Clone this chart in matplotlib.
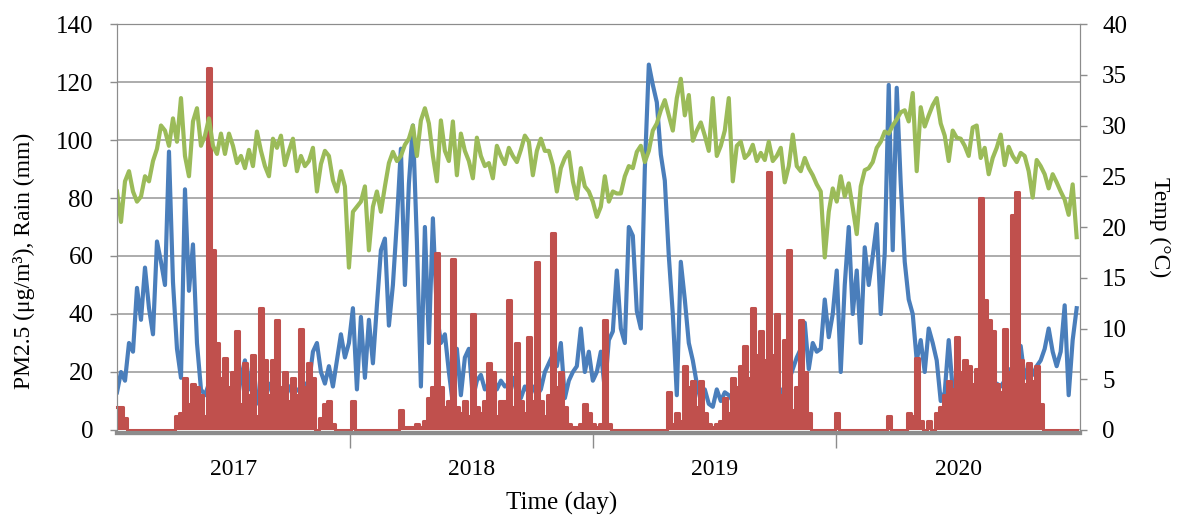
import matplotlib

matplotlib.use("Agg")
import matplotlib.dates as mdates
import matplotlib.pyplot as plt
import pandas as pd

# daily records, one value every 6 days from 17 Jan 2017
start = "2017-01-17"
step_days = 6
x_end = "2021-01-01"

pm25 = [
    13, 20, 17, 30, 27, 49, 38, 56, 42, 33, 65, 58, 50, 96, 51, 28, 18, 83, 48, 64,
    30, 14, 12, 16, 11, 15, 13, 16, 12, 14, 9, 18, 24, 14, 24, 10, 8, 13, 16, 12,
    14, 11, 16, 15, 12, 14, 13, 16, 16, 27, 30, 20, 16, 22, 15, 24, 33, 25, 30, 42,
    14, 39, 18, 38, 23, 43, 62, 66, 36, 50, 72, 97, 50, 85, 105, 65, 15, 70, 30, 73,
    40, 30, 33, 20, 9, 28, 12, 25, 28, 11, 17, 19, 14, 16, 19, 14, 17, 15, 16, 18,
    13, 11, 15, 13, 15, 12, 14, 20, 23, 26, 22, 30, 11, 17, 20, 22, 35, 20, 27, 17,
    20, 27, 14, 31, 34, 55, 35, 30, 70, 67, 41, 35, 90, 126, 119, 113, 95, 86, 60, 40,
    12, 58, 45, 30, 24, 16, 10, 14, 9, 8, 14, 10, 13, 12, 10, 9, 12, 10, 8, 11,
    12, 9, 13, 11, 14, 12, 13, 15, 17, 21, 25, 28, 37, 21, 30, 27, 28, 45, 32, 40,
    55, 20, 50, 70, 40, 55, 30, 63, 50, 60, 71, 40, 61, 119, 62, 118, 85, 58, 45, 40,
    24, 31, 20, 35, 30, 24, 10, 13, 31, 14, 12, 15, 11, 14, 10, 13, 12, 11, 14, 13,
    16, 15, 17, 21, 20, 26, 29, 18, 22, 19, 22, 24, 28, 35, 27, 22, 27, 43, 12, 31, 42,
]

temp = [
    23.5, 20.5, 24.5, 25.5, 23.5, 22.5, 23.0, 25.0, 24.5, 26.5, 27.7, 30.0, 29.5, 28.0, 30.7, 28.4, 32.7, 27.0, 25.0, 30.4,
    31.7, 28.0, 29.0, 30.7, 28.0, 27.2, 29.2, 27.2, 29.2, 28.0, 26.3, 27.0, 25.8, 27.6, 26.0, 29.4, 27.5, 26.0, 25.0, 28.7,
    27.8, 29.0, 26.1, 27.5, 28.7, 25.5, 27.0, 26.0, 26.5, 27.8, 23.5, 26.2, 27.5, 27.0, 24.6, 23.5, 25.5, 24.0, 16.0, 21.5,
    22.0, 22.5, 24.0, 17.7, 22.0, 23.5, 21.5, 24.0, 26.3, 27.4, 26.5, 27.0, 28.1, 28.7, 30.0, 27.0, 30.5, 31.7, 30.2, 27.0,
    24.5, 30.5, 27.5, 26.5, 30.4, 25.1, 29.2, 27.5, 26.5, 24.8, 28.8, 27.0, 26.0, 26.3, 24.8, 28.0, 27.0, 26.2, 27.8, 27.0,
    26.4, 27.6, 29.0, 28.4, 25.1, 27.5, 28.7, 27.5, 27.5, 26.1, 23.5, 25.8, 26.8, 27.4, 24.5, 22.8, 25.8, 24.0, 23.5, 22.5,
    21.0, 22.0, 25.0, 22.5, 23.5, 23.3, 23.3, 25.0, 26.0, 25.8, 27.4, 28.0, 26.4, 27.5, 29.5, 30.2, 31.5, 32.5, 31.0, 29.5,
    32.7, 34.6, 31.0, 33.0, 28.5, 29.5, 30.3, 29.0, 27.5, 32.7, 27.0, 28.0, 29.5, 32.7, 24.5, 28.0, 28.4, 26.8, 27.2, 28.1,
    26.5, 27.3, 26.6, 28.4, 26.5, 27.0, 27.8, 24.4, 26.0, 29.1, 26.0, 25.5, 26.8, 25.8, 25.1, 24.2, 23.5, 17.0, 21.5, 23.8,
    22.5, 25.0, 23.0, 24.3, 21.9, 19.3, 24.0, 25.6, 25.8, 26.4, 27.8, 28.4, 29.4, 29.2, 30.0, 30.6, 31.3, 31.5, 30.4, 33.2,
    25.5, 31.8, 29.9, 31.0, 32.0, 32.7, 30.2, 29.0, 26.5, 29.5, 28.8, 28.7, 28.0, 27.0, 29.8, 30.0, 26.8, 27.8, 25.2, 26.8,
    27.8, 29.1, 26.1, 27.9, 27.0, 26.4, 27.3, 27.0, 25.5, 22.9, 26.6, 26.0, 25.2, 23.8, 25.2, 24.4, 23.5, 22.7, 21.2, 24.2, 19.0,
]

rain = [
    8, 8, 4, 0, 0, 0, 0, 0, 0, 0, 0, 0, 0, 0, 0, 5, 6, 18, 9, 16,
    15, 12, 5, 125, 62, 30, 18, 25, 15, 20, 34, 9, 23, 12, 26, 5, 42, 24, 12, 24,
    38, 15, 20, 10, 18, 12, 35, 15, 23, 18, 0, 4, 9, 10, 2, 0, 0, 0, 0, 10,
    0, 0, 0, 0, 0, 0, 0, 0, 0, 0, 0, 7, 1, 1, 1, 2, 1, 3, 11, 15,
    61, 15, 8, 10, 59, 8, 6, 10, 5, 40, 8, 6, 10, 23, 20, 5, 10, 10, 45, 8,
    30, 10, 6, 32, 10, 58, 10, 5, 12, 68, 15, 20, 8, 2, 1, 1, 2, 9, 6, 2,
    1, 2, 38, 2, 0, 0, 0, 0, 0, 0, 0, 0, 0, 0, 0, 0, 0, 0, 13, 2,
    6, 3, 22, 15, 17, 8, 17, 6, 2, 1, 2, 3, 11, 6, 18, 15, 22, 29, 18, 42,
    26, 34, 24, 89, 26, 40, 12, 31, 62, 7, 15, 38, 20, 6, 0, 0, 0, 0, 0, 0,
    6, 0, 0, 0, 0, 0, 0, 0, 0, 0, 0, 0, 0, 5, 0, 0, 0, 0, 6, 5,
    25, 3, 0, 3, 0, 6, 8, 12, 17, 14, 32, 20, 24, 22, 16, 21, 80, 45, 38, 34,
    16, 13, 35, 20, 74, 82, 24, 16, 23, 17, 22, 9, 0, 0, 0, 0, 0, 0, 0, 0, 0,
]

year_labels = ["2017", "2018", "2019", "2020"]
year_starts = ["2018-01-01", "2019-01-01", "2020-01-01"]

BLUE = "#4A7EBB"
RED = "#C0504D"
GREEN = "#9BBB59"
GRAY = "#8C8C8C"

plt.rcParams["font.family"] = ["Liberation Serif", "DejaVu Serif"]

dates = pd.date_range(start, periods=len(pm25), freq=f"{step_days}D")

fig = plt.figure(figsize=(11.8, 5.2), dpi=100)
ax = fig.add_axes([117 / 1180, 90 / 520, 963 / 1180, 406 / 520])
ax2 = ax.twinx()

ax.plot(dates, pm25, color=BLUE, lw=3.0, zorder=2)
ax.fill_between(dates, rain, 0, step="mid", color=RED, lw=0, zorder=3)
ax.step(dates, rain, where="mid", color=RED, lw=2.2, zorder=3, clip_on=False)
ax2.plot(dates, temp, color=GREEN, lw=3.0)

ax.set_xlim(pd.Timestamp(start), pd.Timestamp(x_end))
ax.set_ylim(0, 140)
ax2.set_ylim(0, 40)
ax.set_yticks(range(0, 141, 20))
ax2.set_yticks(range(0, 41, 5))

# year groups: boundary ticks, labels centred in each group
edges = mdates.date2num(pd.to_datetime([start] + year_starts + [x_end]))
centers = (edges[:-1] + edges[1:]) / 2
ax.set_xticks(edges[1:-1])
ax.set_xticklabels([])
ax.set_xticks(centers, minor=True)
ax.set_xticklabels(year_labels, minor=True)
ax.tick_params(axis="x", which="major", length=11, width=1, color=GRAY)
ax.tick_params(axis="x", which="minor", length=0, pad=19, labelsize=17)
ax.tick_params(axis="y", length=5, width=1, color=GRAY, pad=12, labelsize=18)
ax2.tick_params(axis="y", length=5, width=1, color=GRAY, pad=11, labelsize=18)

ax.grid(axis="y", color="#A6A6A6", lw=1.3)
ax.set_axisbelow(True)
for a in (ax, ax2):
    for side in ("left", "right", "top"):
        a.spines[side].set_color(GRAY)
    a.spines["bottom"].set_color(GRAY)
    a.spines["bottom"].set_linewidth(3)
    a.spines["bottom"].set_position(("outward", 2))

ax.set_ylabel("PM2.5 (μg/m³), Rain (mm)", fontsize=17, ha="center", va="center")
ax.yaxis.set_label_coords(-0.097, 0.416)
ax2.set_ylabel("Temp (°C)", rotation=270, fontsize=17, ha="center", va="center")
ax2.yaxis.set_label_coords(1.083, 0.5)
ax.set_xlabel("Time (day)", fontsize=18, ha="center", va="center")
ax.xaxis.set_label_coords(0.462, -0.18)

fig.savefig("out.png", dpi=100)
